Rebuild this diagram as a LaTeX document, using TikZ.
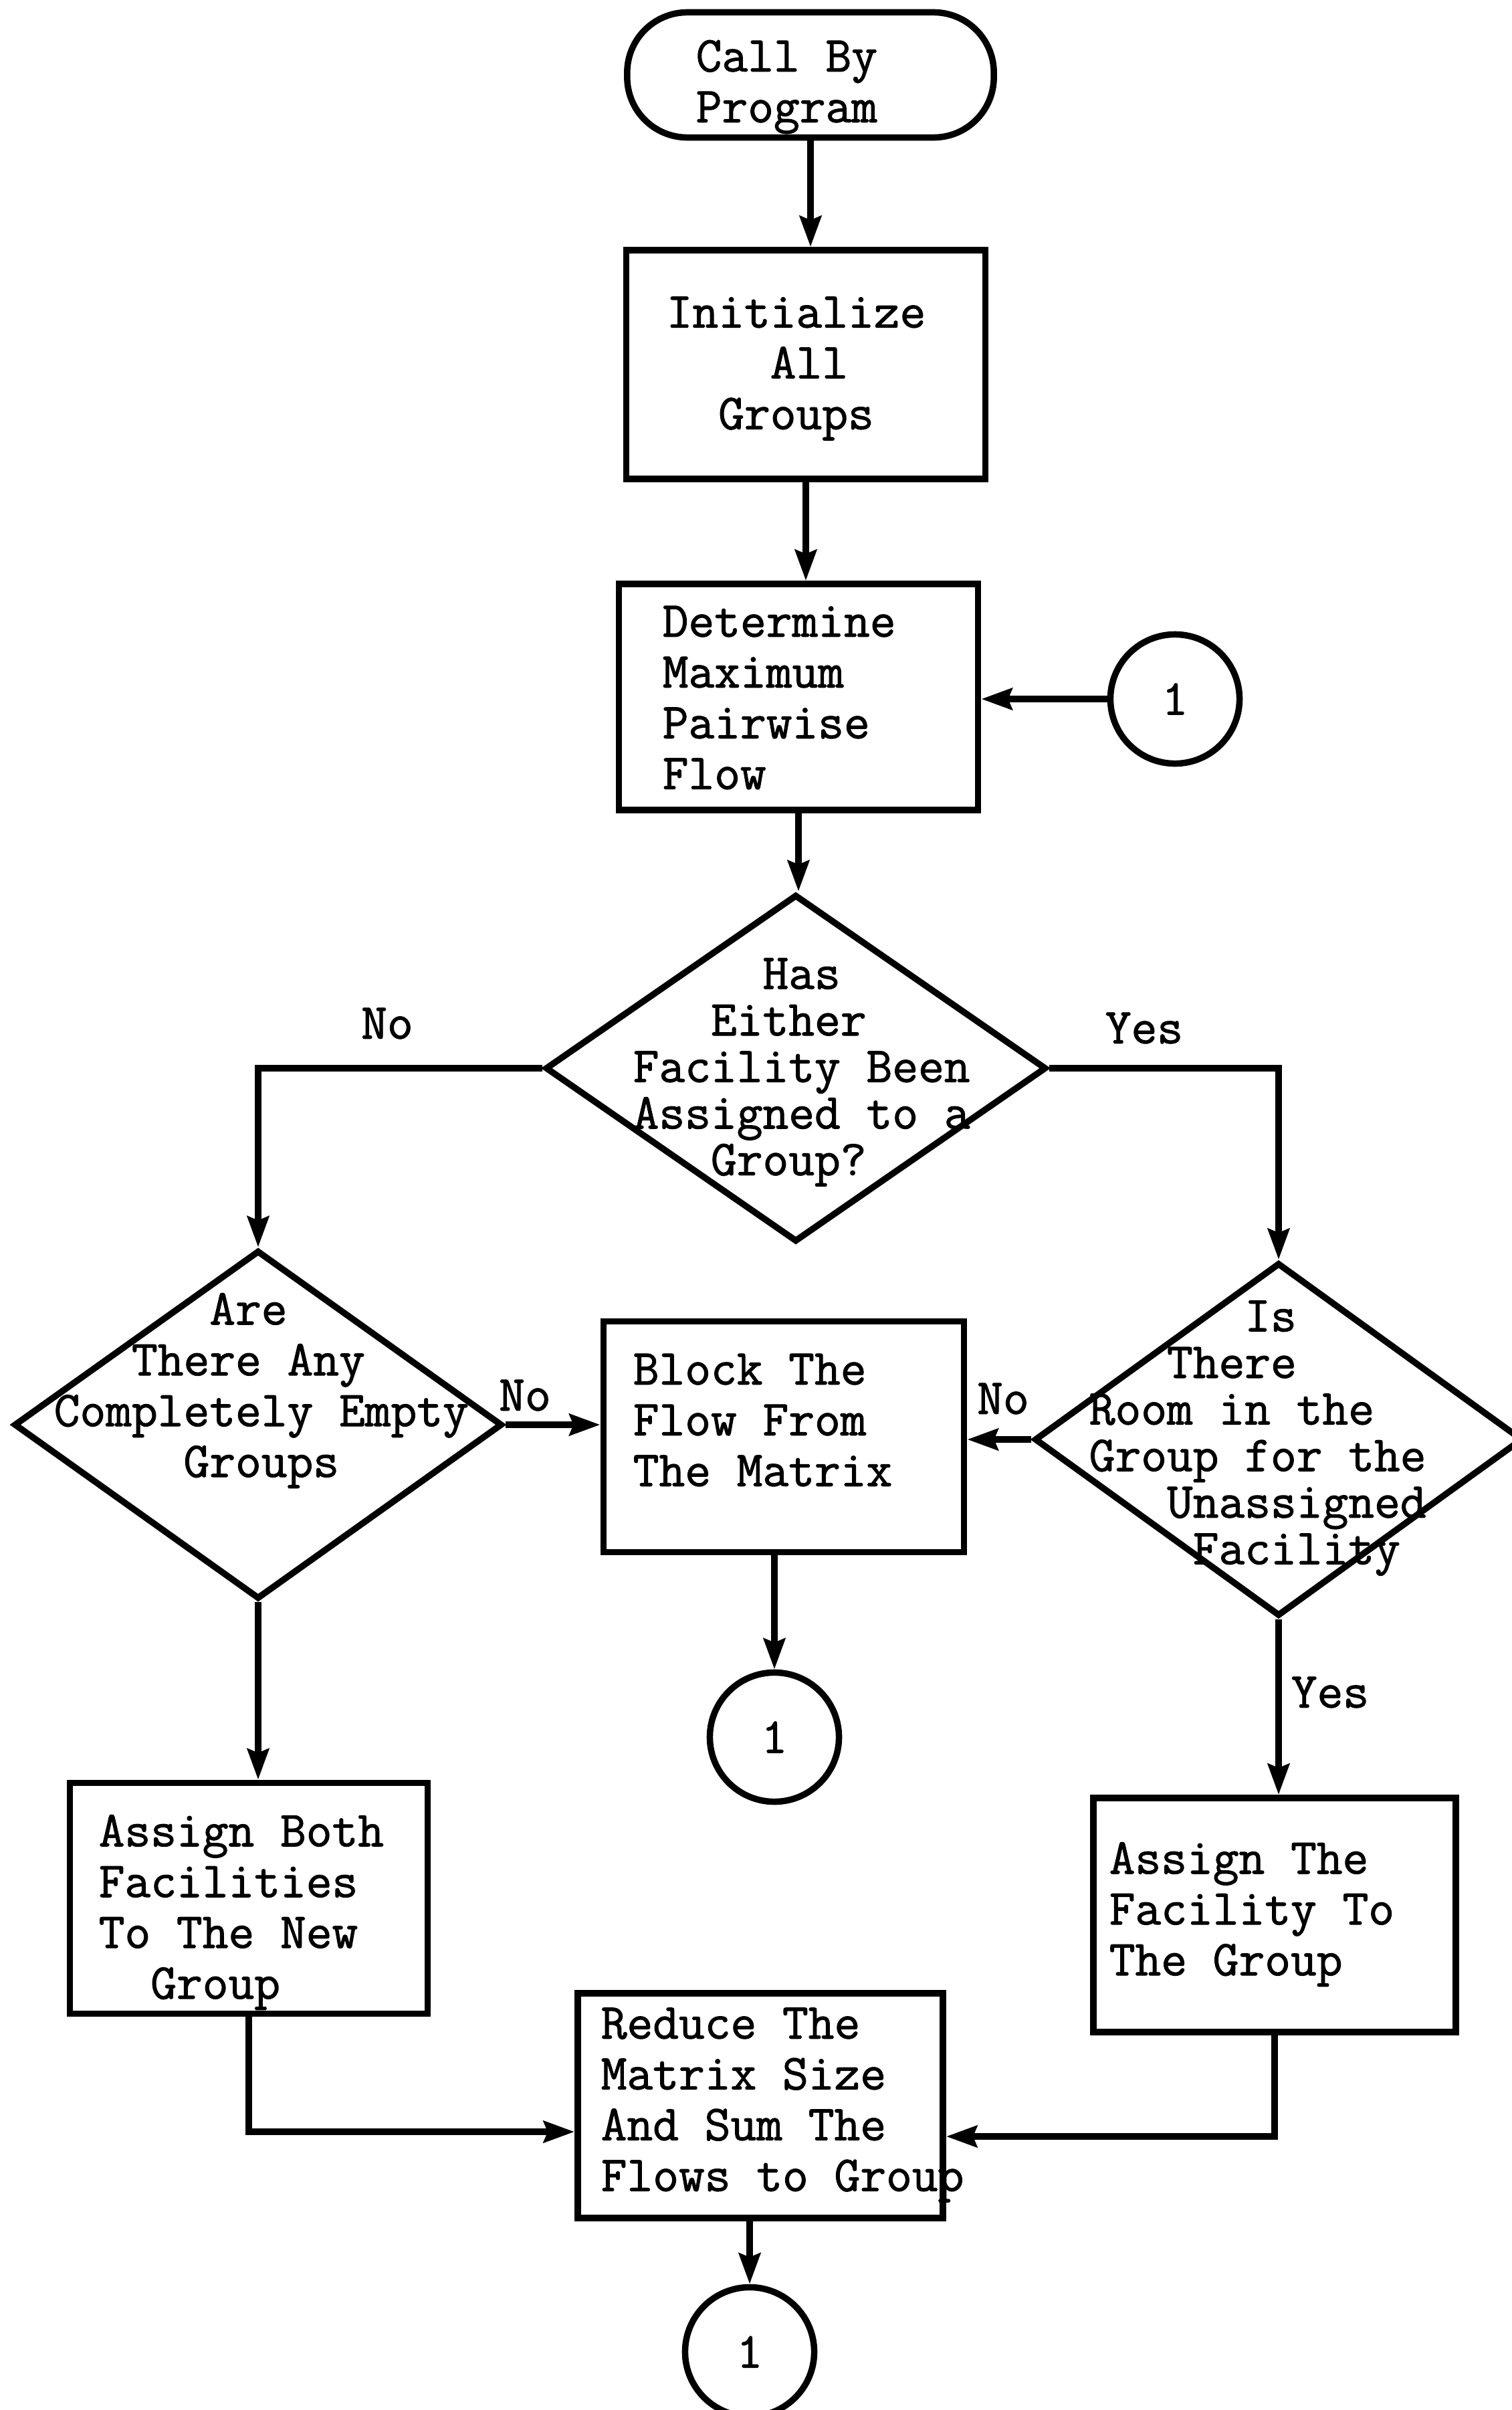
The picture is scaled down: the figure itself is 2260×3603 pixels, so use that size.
\documentclass[tikz,border=0pt]{standalone}
\usepackage{fontspec}
\usetikzlibrary{arrows.meta,shapes.geometric,calc}
% typewriter lettering used throughout the chart, slightly emboldened
\newfontfamily\typewriter{Latin Modern Mono}[FakeBold=1.4]
\newcommand\flowfont{\typewriter\fontsize{21.4pt}{21.6pt}\selectfont}
\newcommand\flowfonttight{\typewriter\fontsize{21.4pt}{19.8pt}\selectfont}
\begin{document}
\begin{tikzpicture}[x=0.01cm,y=-0.01cm,
  line width=0.095cm,
  proc/.style={draw, rectangle, line width=0.095cm, inner sep=0},
  decision/.style={draw, diamond, line width=0.095cm, inner sep=0},
  connector/.style={draw, circle, line width=0.095cm, minimum size=1.93cm, inner sep=0, font=\flowfont},
  txt/.style={inner sep=0, align=left, anchor=west, font=\flowfont},
  tighttxt/.style={txt, font=\flowfonttight},
  lbl/.style={inner sep=0, font=\flowfont},
  flow/.style={-{Stealth[length=0.46cm,width=0.32cm,inset=0.06cm]}, line width=0.095cm},
]
\fill[white] (0,0) rectangle (2260,3603);
\useasboundingbox (0,0) rectangle (2260,3603);

% start terminal
\node[proc, rounded corners=0.9cm, minimum width=5.48cm, minimum height=1.87cm] (start) at (1212,112) {};
\node[txt] (starttext) at (1036,130) {Call By\\Program};

% process boxes of the main column
\node[proc, minimum width=5.37cm, minimum height=3.42cm] (init) at (1205,545) {};
\node[txt] (inittext) at (992,551) {Initialize\\\hphantom{0000}All\\\hphantom{00}Groups};

\node[proc, minimum width=5.37cm, minimum height=3.38cm] (det) at (1194,1042) {};
\node[txt] (dettext) at (986,1043) {Determine\\Maximum\\Pairwise\\Flow};

\node[connector] (c1) at (1757,1045) {1};

% first decision
\node[decision, minimum width=7.49cm, minimum height=5.19cm] (d1) at (1190,1597) {};
\node[tighttxt] (d1text) at (942,1603) {\hphantom{00000}Has\\\hphantom{000}Either\\Facility Been\\Assigned to a\\\hphantom{000}Group?};

% left decision
\node[decision, minimum width=7.3cm, minimum height=5.21cm] (d2) at (386,2130) {};
\node[txt] (d2text) at (76,2079) {\hphantom{000000}Are\\\hphantom{000}There Any\\Completely Empty\\\hphantom{00000}Groups};

% blocking step
\node[proc, minimum width=5.39cm, minimum height=3.45cm] (blk) at (1172,2148) {};
\node[txt] (blktext) at (942,2123) {Block The\\Flow From\\The Matrix};

% right decision
\node[decision, minimum width=7.3cm, minimum height=5.28cm] (d3) at (1912,2152) {};
\node[tighttxt] (d3text) at (1624,2150) {\hphantom{000000}Is\\\hphantom{000}There\\Room in the\\Group for the\\\hphantom{000}Unassigned\\\hphantom{0000}Facility};

\node[connector] (c2) at (1158,2597) {1};

% assignment steps
\node[proc, minimum width=5.35cm, minimum height=3.45cm] (ab) at (372,2838) {};
\node[txt] (abtext) at (143,2859) {Assign Both\\Facilities\\To The New\\\hphantom{00}Group};

\node[proc, minimum width=5.42cm, minimum height=3.5cm] (af) at (1906,2863) {};
\node[txt] (aftext) at (1654,2862) {Assign The\\Facility To\\The Group};

\node[proc, minimum width=5.46cm, minimum height=3.36cm] (red) at (1137,3148) {};
\node[txt] (redtext) at (894,3147) {Reduce The\\Matrix Size\\And Sum The\\Flows to Group};

\node[connector] (c3) at (1121,3516) {1};

% branch labels
\node[lbl] (no1) at (579,1530) {No};
\node[lbl] (yes1) at (1711,1537) {Yes};
\node[lbl] (no2) at (785,2086) {No};
\node[lbl] (no3) at (1500,2091) {No};
\node[lbl] (yes2) at (1989,2530) {Yes};

% connectors
\draw[flow] (start.south) -- (start.south |- init.north);
\draw[flow] (init.south) -- (init.south |- det.north);
\draw[flow] (c1.west) -- (c1.west -| det.east);
\draw[flow] (det.south) -- (det.south |- d1.north);
\draw[flow] (d1.west) -| (d2.north);
\draw[flow] (d1.east) -| (d3.north);
\draw[flow] (d2.east) -- (d2.east -| blk.west);
\draw[flow] (d3.west) -- (d3.west -| blk.east);
\draw[flow] (blk.south -| c2.north) -- (c2.north);
\draw[flow] (d2.south) -- (d2.south |- ab.north);
\draw[flow] (d3.south) -- (d3.south |- af.north);
\draw[flow] (ab.south) |- ([yshift=-0.39cm]red.west);
\draw[flow] (af.south) |- ([yshift=-0.46cm]red.east);
\draw[flow] (red.south -| c3.north) -- (c3.north);
\end{tikzpicture}
\end{document}
